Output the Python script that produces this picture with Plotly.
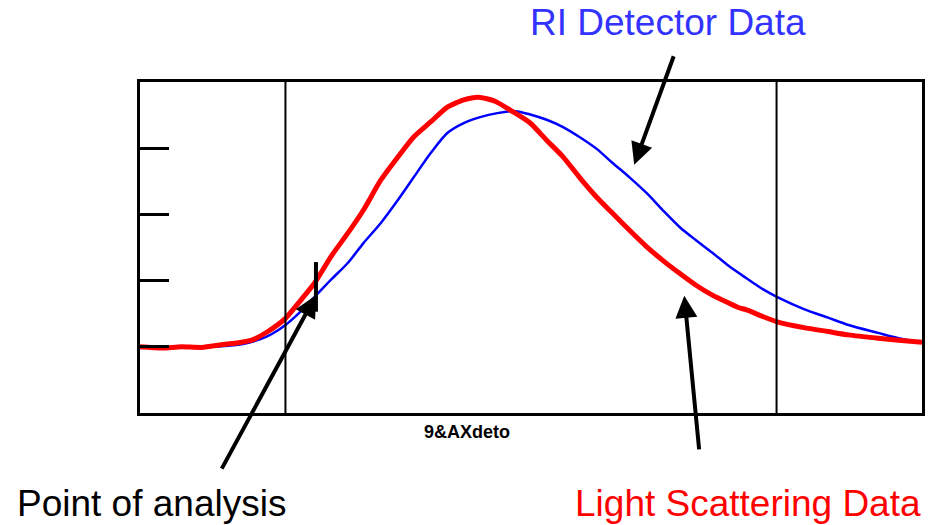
import plotly.graph_objects as go

# Light scattering detector trace (elution position, relative response)
ls_x = [0.0, 2.8, 5.3, 7.9, 10.4, 13.0, 14.3, 16.2, 18.6, 20.6, 22.3, 24.4, 26.6, 28.6,
        30.8, 33.0, 35.0, 37.2, 39.3, 41.4, 43.3, 45.4, 47.7, 49.9, 52.0, 54.1, 56.2,
        58.4, 60.4, 62.6, 64.8, 66.8, 69.0, 71.1, 73.2, 75.3, 76.6, 77.5, 79.8, 81.7,
        84.9, 88.0, 90.6, 94.4, 97.0, 100.0]
ls_y = [1.00, 0.98, 1.00, 0.99, 1.03, 1.07, 1.10, 1.22, 1.43, 1.71, 1.96, 2.36, 2.72, 3.07,
        3.52, 3.87, 4.17, 4.40, 4.62, 4.73, 4.77, 4.71, 4.55, 4.38, 4.12, 3.87, 3.56,
        3.26, 3.02, 2.76, 2.51, 2.31, 2.11, 1.93, 1.78, 1.66, 1.59, 1.56, 1.45, 1.37,
        1.29, 1.23, 1.18, 1.13, 1.10, 1.07]

# Refractive index detector trace
ri_x = [0.0, 7.9, 10.4, 13.0, 15.5, 16.8, 18.6, 20.6, 22.3, 24.4, 26.6, 28.6, 30.8, 33.0,
        35.0, 37.2, 39.3, 41.4, 43.5, 45.7, 48.0, 49.9, 52.0, 54.1, 56.2, 58.4, 60.4,
        62.6, 64.8, 66.8, 69.0, 71.1, 73.2, 75.3, 77.5, 79.8, 81.7, 84.9, 88.0, 90.6,
        94.4, 97.0, 100.0]
ri_y = [0.98, 1.00, 1.01, 1.04, 1.12, 1.19, 1.33, 1.54, 1.75, 2.01, 2.27, 2.57, 2.87, 3.22,
        3.56, 3.93, 4.23, 4.38, 4.47, 4.53, 4.56, 4.51, 4.43, 4.32, 4.17, 3.99, 3.78,
        3.56, 3.32, 3.07, 2.81, 2.61, 2.42, 2.22, 2.04, 1.86, 1.74, 1.57, 1.44, 1.33,
        1.21, 1.13, 1.06]

# Integration limits and the point of analysis
limits_x = [18.6, 81.4]
analysis_x = 22.5
analysis_y = [1.53, 2.28]

y_ticks = [1, 2, 3, 4]

fig = go.Figure()

fig.add_trace(go.Scatter(x=ri_x, y=ri_y, mode="lines",
                         line=dict(color="#0000FF", width=2.5, shape="spline", smoothing=0.8),
                         name="RI"))
fig.add_trace(go.Scatter(x=ls_x, y=ls_y, mode="lines",
                         line=dict(color="#FF0000", width=5, shape="spline", smoothing=0.6),
                         name="LS"))

for lx in limits_x:
    fig.add_shape(type="line", x0=lx, x1=lx, y0=0, y1=1, xref="x", yref="paper",
                  line=dict(color="black", width=2))

fig.add_shape(type="line", x0=analysis_x, x1=analysis_x,
              y0=analysis_y[0], y1=analysis_y[1], xref="x", yref="y",
              line=dict(color="black", width=4))

arrow_style = dict(showarrow=True, arrowhead=2, arrowsize=1.1, arrowwidth=4,
                   arrowcolor="black", text="", xref="x", yref="y")
fig.add_annotation(x=22.5, y=1.78, ax=-95, ay=175, **arrow_style)
fig.add_annotation(x=63.2, y=3.75, ax=40, ay=-110, **arrow_style)
fig.add_annotation(x=69.6, y=1.77, ax=15, ay=155, **arrow_style)

label_font = "Liberation Sans, Arial, sans-serif"
fig.add_annotation(text="RI Detector Data", x=0.675, y=1.18, xref="paper", yref="paper",
                   showarrow=False, xanchor="center", yanchor="middle",
                   font=dict(family=label_font, size=37, color="#3333FF"))
fig.add_annotation(text="Point of analysis", x=0.0153, y=-0.272, xref="paper", yref="paper",
                   showarrow=False, xanchor="center", yanchor="middle",
                   font=dict(family=label_font, size=37, color="black"))
fig.add_annotation(text="Light Scattering Data", x=0.777, y=-0.272, xref="paper", yref="paper",
                   showarrow=False, xanchor="center", yanchor="middle",
                   font=dict(family=label_font, size=37, color="#FF0000"))

# Axis title
fig.add_annotation(text="<b>9&AXdeto</b>", x=0.4186, y=-0.0574, xref="paper", yref="paper",
                   showarrow=False, xanchor="center", yanchor="middle",
                   font=dict(family="Liberation Sans Narrow, Liberation Sans, sans-serif",
                             size=18, color="black"))

fig.update_xaxes(range=[0, 100], showgrid=False, zeroline=False, showticklabels=False,
                 ticks="", showline=True, linecolor="black", linewidth=3, mirror=True)
fig.update_yaxes(range=[0, 5], showgrid=False, zeroline=False, showticklabels=False,
                 tickvals=y_ticks, ticks="inside", ticklen=29, tickwidth=3, tickcolor="black",
                 showline=True, linecolor="black", linewidth=3, mirror=True)

fig.update_layout(width=935, height=525, showlegend=False,
                  margin=dict(l=140, r=10, t=82, b=112),
                  paper_bgcolor="white", plot_bgcolor="white")

fig.write_html("out.html")
